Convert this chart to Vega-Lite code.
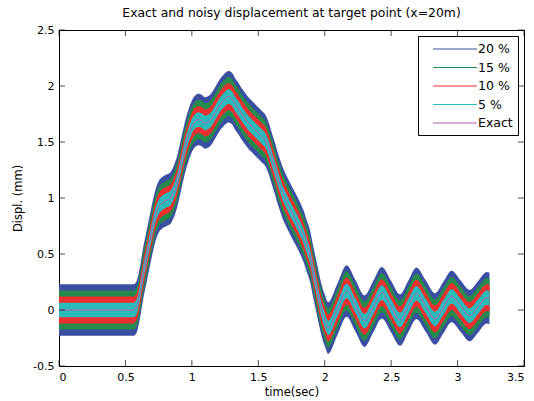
{
  "$schema": "https://vega.github.io/schema/vega-lite/v6.json",
  "width": 465,
  "height": 336,
  "autosize": {"type": "none"},
  "padding": {"left": 59, "top": 30, "right": 10, "bottom": 35},
  "title": {"text": "Exact and noisy displacement at target point (x=20m)", "fontSize": 12.4, "fontWeight": "normal", "font": "DejaVu Sans", "color": "black", "offset": 5, "anchor": "middle"},
  "config": {
    "view": {"stroke": "black", "strokeWidth": 1},
    "font": "DejaVu Sans",
    "axis": {"grid": false, "domain": false, "ticks": false, "labelPadding": 5, "labelColor": "black", "titleColor": "black", "labelFont": "DejaVu Sans", "titleFont": "DejaVu Sans", "labelFontSize": 11, "titleFontSize": 11.5, "titleFontWeight": "normal"}
  },
  "datasets": {
    "xticks": [{"v":0},{"v":0.5},{"v":1},{"v":1.5},{"v":2},{"v":2.5},{"v":3},{"v":3.5}],
    "yticks": [{"v":-0.5},{"v":0},{"v":0.5},{"v":1},{"v":1.5},{"v":2},{"v":2.5}]
  },
  "data": {"values": [
    {"t":0,"e":0,"lo20":-0.23,"hi20":0.23,"lo15":-0.175,"hi15":0.175,"lo10":-0.12,"hi10":0.12,"lo5":-0.065,"hi5":0.065},
    {"t":0.56,"e":0,"lo20":-0.23,"hi20":0.23,"lo15":-0.175,"hi15":0.175,"lo10":-0.12,"hi10":0.12,"lo5":-0.065,"hi5":0.065},
    {"t":0.585,"e":0.03,"lo20":-0.2,"hi20":0.26,"lo15":-0.145,"hi15":0.205,"lo10":-0.09,"hi10":0.15,"lo5":-0.035,"hi5":0.095},
    {"t":0.61,"e":0.16,"lo20":-0.07,"hi20":0.39,"lo15":-0.015,"hi15":0.335,"lo10":0.04,"hi10":0.28,"lo5":0.095,"hi5":0.225},
    {"t":0.634,"e":0.33,"lo20":0.1,"hi20":0.56,"lo15":0.155,"hi15":0.505,"lo10":0.21,"hi10":0.45,"lo5":0.265,"hi5":0.395},
    {"t":0.66,"e":0.48,"lo20":0.25,"hi20":0.71,"lo15":0.305,"hi15":0.655,"lo10":0.36,"hi10":0.6,"lo5":0.415,"hi5":0.545},
    {"t":0.685,"e":0.625,"lo20":0.395,"hi20":0.855,"lo15":0.45,"hi15":0.8,"lo10":0.505,"hi10":0.745,"lo5":0.56,"hi5":0.69},
    {"t":0.705,"e":0.74,"lo20":0.51,"hi20":0.97,"lo15":0.565,"hi15":0.915,"lo10":0.62,"hi10":0.86,"lo5":0.675,"hi5":0.805},
    {"t":0.725,"e":0.84,"lo20":0.61,"hi20":1.07,"lo15":0.665,"hi15":1.015,"lo10":0.72,"hi10":0.96,"lo5":0.775,"hi5":0.905},
    {"t":0.75,"e":0.92,"lo20":0.69,"hi20":1.15,"lo15":0.745,"hi15":1.095,"lo10":0.8,"hi10":1.04,"lo5":0.855,"hi5":0.985},
    {"t":0.78,"e":0.96,"lo20":0.73,"hi20":1.19,"lo15":0.785,"hi15":1.135,"lo10":0.84,"hi10":1.08,"lo5":0.895,"hi5":1.025},
    {"t":0.81,"e":0.98,"lo20":0.75,"hi20":1.21,"lo15":0.805,"hi15":1.155,"lo10":0.86,"hi10":1.1,"lo5":0.915,"hi5":1.045},
    {"t":0.84,"e":1.0,"lo20":0.77,"hi20":1.23,"lo15":0.825,"hi15":1.175,"lo10":0.88,"hi10":1.12,"lo5":0.935,"hi5":1.065},
    {"t":0.865,"e":1.06,"lo20":0.83,"hi20":1.29,"lo15":0.885,"hi15":1.235,"lo10":0.94,"hi10":1.18,"lo5":0.995,"hi5":1.125},
    {"t":0.89,"e":1.15,"lo20":0.92,"hi20":1.38,"lo15":0.975,"hi15":1.325,"lo10":1.03,"hi10":1.27,"lo5":1.085,"hi5":1.215},
    {"t":0.91,"e":1.25,"lo20":1.02,"hi20":1.48,"lo15":1.075,"hi15":1.425,"lo10":1.13,"hi10":1.37,"lo5":1.185,"hi5":1.315},
    {"t":0.93,"e":1.36,"lo20":1.13,"hi20":1.59,"lo15":1.185,"hi15":1.535,"lo10":1.24,"hi10":1.48,"lo5":1.295,"hi5":1.425},
    {"t":0.95,"e":1.46,"lo20":1.23,"hi20":1.69,"lo15":1.285,"hi15":1.635,"lo10":1.34,"hi10":1.58,"lo5":1.395,"hi5":1.525},
    {"t":0.975,"e":1.56,"lo20":1.33,"hi20":1.79,"lo15":1.385,"hi15":1.735,"lo10":1.44,"hi10":1.68,"lo5":1.495,"hi5":1.625},
    {"t":1.0,"e":1.64,"lo20":1.41,"hi20":1.87,"lo15":1.465,"hi15":1.815,"lo10":1.52,"hi10":1.76,"lo5":1.575,"hi5":1.705},
    {"t":1.025,"e":1.685,"lo20":1.455,"hi20":1.915,"lo15":1.51,"hi15":1.86,"lo10":1.565,"hi10":1.805,"lo5":1.62,"hi5":1.75},
    {"t":1.05,"e":1.7,"lo20":1.47,"hi20":1.93,"lo15":1.525,"hi15":1.875,"lo10":1.58,"hi10":1.82,"lo5":1.635,"hi5":1.765},
    {"t":1.075,"e":1.69,"lo20":1.46,"hi20":1.92,"lo15":1.515,"hi15":1.865,"lo10":1.57,"hi10":1.81,"lo5":1.625,"hi5":1.755},
    {"t":1.1,"e":1.67,"lo20":1.44,"hi20":1.9,"lo15":1.495,"hi15":1.845,"lo10":1.55,"hi10":1.79,"lo5":1.605,"hi5":1.735},
    {"t":1.125,"e":1.68,"lo20":1.45,"hi20":1.91,"lo15":1.505,"hi15":1.855,"lo10":1.56,"hi10":1.8,"lo5":1.615,"hi5":1.745},
    {"t":1.15,"e":1.71,"lo20":1.48,"hi20":1.94,"lo15":1.535,"hi15":1.885,"lo10":1.59,"hi10":1.83,"lo5":1.645,"hi5":1.775},
    {"t":1.18,"e":1.77,"lo20":1.54,"hi20":2.0,"lo15":1.595,"hi15":1.945,"lo10":1.65,"hi10":1.89,"lo5":1.705,"hi5":1.835},
    {"t":1.21,"e":1.83,"lo20":1.6,"hi20":2.06,"lo15":1.655,"hi15":2.005,"lo10":1.71,"hi10":1.95,"lo5":1.765,"hi5":1.895},
    {"t":1.245,"e":1.88,"lo20":1.65,"hi20":2.11,"lo15":1.705,"hi15":2.055,"lo10":1.76,"hi10":2.0,"lo5":1.815,"hi5":1.945},
    {"t":1.275,"e":1.905,"lo20":1.675,"hi20":2.135,"lo15":1.73,"hi15":2.08,"lo10":1.785,"hi10":2.025,"lo5":1.84,"hi5":1.97},
    {"t":1.3,"e":1.89,"lo20":1.66,"hi20":2.12,"lo15":1.715,"hi15":2.065,"lo10":1.77,"hi10":2.01,"lo5":1.825,"hi5":1.955},
    {"t":1.325,"e":1.84,"lo20":1.61,"hi20":2.07,"lo15":1.665,"hi15":2.015,"lo10":1.72,"hi10":1.96,"lo5":1.775,"hi5":1.905},
    {"t":1.35,"e":1.8,"lo20":1.57,"hi20":2.03,"lo15":1.625,"hi15":1.975,"lo10":1.68,"hi10":1.92,"lo5":1.735,"hi5":1.865},
    {"t":1.375,"e":1.75,"lo20":1.52,"hi20":1.98,"lo15":1.575,"hi15":1.925,"lo10":1.63,"hi10":1.87,"lo5":1.685,"hi5":1.815},
    {"t":1.4,"e":1.71,"lo20":1.48,"hi20":1.94,"lo15":1.535,"hi15":1.885,"lo10":1.59,"hi10":1.83,"lo5":1.645,"hi5":1.775},
    {"t":1.425,"e":1.67,"lo20":1.44,"hi20":1.9,"lo15":1.495,"hi15":1.845,"lo10":1.55,"hi10":1.79,"lo5":1.605,"hi5":1.735},
    {"t":1.45,"e":1.64,"lo20":1.41,"hi20":1.87,"lo15":1.465,"hi15":1.815,"lo10":1.52,"hi10":1.76,"lo5":1.575,"hi5":1.705},
    {"t":1.475,"e":1.61,"lo20":1.38,"hi20":1.84,"lo15":1.435,"hi15":1.785,"lo10":1.49,"hi10":1.73,"lo5":1.545,"hi5":1.675},
    {"t":1.5,"e":1.58,"lo20":1.35,"hi20":1.81,"lo15":1.405,"hi15":1.755,"lo10":1.46,"hi10":1.7,"lo5":1.515,"hi5":1.645},
    {"t":1.525,"e":1.55,"lo20":1.32,"hi20":1.78,"lo15":1.375,"hi15":1.725,"lo10":1.43,"hi10":1.67,"lo5":1.485,"hi5":1.615},
    {"t":1.55,"e":1.52,"lo20":1.29,"hi20":1.75,"lo15":1.345,"hi15":1.695,"lo10":1.4,"hi10":1.64,"lo5":1.455,"hi5":1.585},
    {"t":1.57,"e":1.47,"lo20":1.24,"hi20":1.7,"lo15":1.295,"hi15":1.645,"lo10":1.35,"hi10":1.59,"lo5":1.405,"hi5":1.535},
    {"t":1.59,"e":1.4,"lo20":1.17,"hi20":1.63,"lo15":1.225,"hi15":1.575,"lo10":1.28,"hi10":1.52,"lo5":1.335,"hi5":1.465},
    {"t":1.61,"e":1.32,"lo20":1.09,"hi20":1.55,"lo15":1.145,"hi15":1.495,"lo10":1.2,"hi10":1.44,"lo5":1.255,"hi5":1.385},
    {"t":1.625,"e":1.265,"lo20":1.035,"hi20":1.495,"lo15":1.09,"hi15":1.44,"lo10":1.145,"hi10":1.385,"lo5":1.2,"hi5":1.33},
    {"t":1.645,"e":1.18,"lo20":0.95,"hi20":1.41,"lo15":1.005,"hi15":1.355,"lo10":1.06,"hi10":1.3,"lo5":1.115,"hi5":1.245},
    {"t":1.665,"e":1.11,"lo20":0.88,"hi20":1.34,"lo15":0.935,"hi15":1.285,"lo10":0.99,"hi10":1.23,"lo5":1.045,"hi5":1.175},
    {"t":1.685,"e":1.04,"lo20":0.81,"hi20":1.27,"lo15":0.865,"hi15":1.215,"lo10":0.92,"hi10":1.16,"lo5":0.975,"hi5":1.105},
    {"t":1.7,"e":1.0,"lo20":0.77,"hi20":1.23,"lo15":0.825,"hi15":1.175,"lo10":0.88,"hi10":1.12,"lo5":0.935,"hi5":1.065},
    {"t":1.725,"e":0.94,"lo20":0.71,"hi20":1.17,"lo15":0.765,"hi15":1.115,"lo10":0.82,"hi10":1.06,"lo5":0.875,"hi5":1.005},
    {"t":1.75,"e":0.88,"lo20":0.65,"hi20":1.11,"lo15":0.705,"hi15":1.055,"lo10":0.76,"hi10":1.0,"lo5":0.815,"hi5":0.945},
    {"t":1.77,"e":0.835,"lo20":0.605,"hi20":1.065,"lo15":0.66,"hi15":1.01,"lo10":0.715,"hi10":0.955,"lo5":0.77,"hi5":0.9},
    {"t":1.79,"e":0.79,"lo20":0.56,"hi20":1.02,"lo15":0.615,"hi15":0.965,"lo10":0.67,"hi10":0.91,"lo5":0.725,"hi5":0.855},
    {"t":1.815,"e":0.73,"lo20":0.5,"hi20":0.96,"lo15":0.555,"hi15":0.905,"lo10":0.61,"hi10":0.85,"lo5":0.665,"hi5":0.795},
    {"t":1.84,"e":0.66,"lo20":0.43,"hi20":0.89,"lo15":0.485,"hi15":0.835,"lo10":0.54,"hi10":0.78,"lo5":0.595,"hi5":0.725},
    {"t":1.865,"e":0.57,"lo20":0.34,"hi20":0.8,"lo15":0.395,"hi15":0.745,"lo10":0.45,"hi10":0.69,"lo5":0.505,"hi5":0.635},
    {"t":1.89,"e":0.48,"lo20":0.25,"hi20":0.71,"lo15":0.305,"hi15":0.655,"lo10":0.36,"hi10":0.6,"lo5":0.415,"hi5":0.545},
    {"t":1.91,"e":0.36,"lo20":0.13,"hi20":0.59,"lo15":0.185,"hi15":0.535,"lo10":0.24,"hi10":0.48,"lo5":0.295,"hi5":0.425},
    {"t":1.935,"e":0.22,"lo20":-0.01,"hi20":0.45,"lo15":0.045,"hi15":0.395,"lo10":0.1,"hi10":0.34,"lo5":0.155,"hi5":0.285},
    {"t":1.96,"e":0.08,"lo20":-0.15,"hi20":0.31,"lo15":-0.095,"hi15":0.255,"lo10":-0.04,"hi10":0.2,"lo5":0.015,"hi5":0.145},
    {"t":1.985,"e":-0.04,"lo20":-0.27,"hi20":0.19,"lo15":-0.215,"hi15":0.135,"lo10":-0.16,"hi10":0.08,"lo5":-0.105,"hi5":0.025},
    {"t":2.0,"e":-0.09,"lo20":-0.32,"hi20":0.14,"lo15":-0.265,"hi15":0.085,"lo10":-0.21,"hi10":0.03,"lo5":-0.155,"hi5":-0.025},
    {"t":2.026,"e":-0.16,"lo20":-0.39,"hi20":0.07,"lo15":-0.335,"hi15":0.015,"lo10":-0.28,"hi10":-0.04,"lo5":-0.225,"hi5":-0.095},
    {"t":2.095,"e":0.005,"lo20":-0.225,"hi20":0.235,"lo15":-0.17,"hi15":0.18,"lo10":-0.115,"hi10":0.125,"lo5":-0.06,"hi5":0.07},
    {"t":2.165,"e":0.17,"lo20":-0.06,"hi20":0.4,"lo15":-0.005,"hi15":0.345,"lo10":0.05,"hi10":0.29,"lo5":0.105,"hi5":0.235},
    {"t":2.232,"e":0.035,"lo20":-0.195,"hi20":0.265,"lo15":-0.14,"hi15":0.21,"lo10":-0.085,"hi10":0.155,"lo5":-0.03,"hi5":0.1},
    {"t":2.3,"e":-0.1,"lo20":-0.33,"hi20":0.13,"lo15":-0.275,"hi15":0.075,"lo10":-0.22,"hi10":0.02,"lo5":-0.165,"hi5":-0.035},
    {"t":2.365,"e":0.028,"lo20":-0.202,"hi20":0.258,"lo15":-0.147,"hi15":0.203,"lo10":-0.092,"hi10":0.148,"lo5":-0.037,"hi5":0.093},
    {"t":2.43,"e":0.155,"lo20":-0.075,"hi20":0.385,"lo15":-0.02,"hi15":0.33,"lo10":0.035,"hi10":0.275,"lo5":0.09,"hi5":0.22},
    {"t":2.498,"e":0.033,"lo20":-0.197,"hi20":0.263,"lo15":-0.142,"hi15":0.208,"lo10":-0.087,"hi10":0.153,"lo5":-0.032,"hi5":0.098},
    {"t":2.566,"e":-0.09,"lo20":-0.32,"hi20":0.14,"lo15":-0.265,"hi15":0.085,"lo10":-0.21,"hi10":0.03,"lo5":-0.155,"hi5":-0.025},
    {"t":2.628,"e":0.03,"lo20":-0.2,"hi20":0.26,"lo15":-0.145,"hi15":0.205,"lo10":-0.09,"hi10":0.15,"lo5":-0.035,"hi5":0.095},
    {"t":2.69,"e":0.15,"lo20":-0.08,"hi20":0.38,"lo15":-0.025,"hi15":0.325,"lo10":0.03,"hi10":0.27,"lo5":0.085,"hi5":0.215},
    {"t":2.76,"e":0.035,"lo20":-0.195,"hi20":0.265,"lo15":-0.14,"hi15":0.21,"lo10":-0.085,"hi10":0.155,"lo5":-0.03,"hi5":0.1},
    {"t":2.83,"e":-0.08,"lo20":-0.31,"hi20":0.15,"lo15":-0.255,"hi15":0.095,"lo10":-0.2,"hi10":0.04,"lo5":-0.145,"hi5":-0.015},
    {"t":2.892,"e":0.02,"lo20":-0.21,"hi20":0.25,"lo15":-0.155,"hi15":0.195,"lo10":-0.1,"hi10":0.14,"lo5":-0.045,"hi5":0.085},
    {"t":2.955,"e":0.12,"lo20":-0.11,"hi20":0.35,"lo15":-0.055,"hi15":0.295,"lo10":0.0,"hi10":0.24,"lo5":0.055,"hi5":0.185},
    {"t":3.022,"e":0.035,"lo20":-0.195,"hi20":0.265,"lo15":-0.14,"hi15":0.21,"lo10":-0.085,"hi10":0.155,"lo5":-0.03,"hi5":0.1},
    {"t":3.09,"e":-0.05,"lo20":-0.28,"hi20":0.18,"lo15":-0.225,"hi15":0.125,"lo10":-0.17,"hi10":0.07,"lo5":-0.115,"hi5":0.015},
    {"t":3.155,"e":0.03,"lo20":-0.2,"hi20":0.26,"lo15":-0.145,"hi15":0.205,"lo10":-0.09,"hi10":0.15,"lo5":-0.035,"hi5":0.095},
    {"t":3.22,"e":0.11,"lo20":-0.12,"hi20":0.34,"lo15":-0.065,"hi15":0.285,"lo10":-0.01,"hi10":0.23,"lo5":0.045,"hi5":0.175},
    {"t":3.24,"e":0.105,"lo20":-0.125,"hi20":0.335,"lo15":-0.07,"hi15":0.28,"lo10":-0.015,"hi10":0.225,"lo5":0.04,"hi5":0.17}
  ]},
  "resolve": {"axis": {"x": "independent", "y": "independent"}},
  "layer": [
    {
      "mark": {"type": "area", "interpolate": "monotone"},
      "encoding": {
        "x": {"field": "t", "type": "quantitative", "scale": {"domain": [0, 3.5], "nice": false, "zero": false},
              "axis": {"orient": "bottom", "values": [0, 0.5, 1, 1.5, 2, 2.5, 3, 3.5], "labelExpr": "'' + datum.value", "title": "time(sec)", "titlePadding": 4}},
        "y": {"field": "lo20", "type": "quantitative", "scale": {"domain": [-0.5, 2.5], "nice": false, "zero": false},
              "axis": {"orient": "left", "values": [-0.5, 0, 0.5, 1, 1.5, 2, 2.5], "labelExpr": "'' + datum.value", "title": "Displ. (mm)", "titlePadding": 9}},
        "y2": {"field": "hi20"},
        "color": {"datum": "20 %", "type": "nominal",
                  "scale": {"domain": ["20 %", "15 %", "10 %", "5 %", "Exact"], "range": ["#3b4fa2", "#268a4c", "#ee2f2f", "#2cb9b9", "#b65fb6"]},
                  "legend": {"title": null, "orient": "top-right", "offset": 6, "symbolType": "M-3,0H3", "symbolSize": 216, "symbolStrokeWidth": 1.2, "symbolOffset": 24,
                             "labelFontSize": 12.5, "labelFont": "DejaVu Sans", "labelColor": "black", "labelOffset": 15, "strokeColor": "black", "fillColor": "white", "padding": 5, "rowPadding": 3.5,
                             "encode": {"symbols": {"update": {"stroke": {"scale": "color", "field": "value"}, "fill": {"value": "transparent"}}}}}}
      }
    },
    {
      "mark": {"type": "area", "interpolate": "monotone"},
      "encoding": {
        "x": {"field": "t", "type": "quantitative", "axis": null},
        "y": {"field": "lo15", "type": "quantitative", "axis": null},
        "y2": {"field": "hi15"},
        "color": {"datum": "15 %", "type": "nominal"}
      }
    },
    {
      "mark": {"type": "area", "interpolate": "monotone"},
      "encoding": {
        "x": {"field": "t", "type": "quantitative", "axis": null},
        "y": {"field": "lo10", "type": "quantitative", "axis": null},
        "y2": {"field": "hi10"},
        "color": {"datum": "10 %", "type": "nominal"}
      }
    },
    {
      "mark": {"type": "area", "interpolate": "monotone"},
      "encoding": {
        "x": {"field": "t", "type": "quantitative", "axis": null},
        "y": {"field": "lo5", "type": "quantitative", "axis": null},
        "y2": {"field": "hi5"},
        "color": {"datum": "5 %", "type": "nominal"}
      }
    },
    {
      "mark": {"type": "line", "interpolate": "monotone", "strokeWidth": 1},
      "encoding": {
        "x": {"field": "t", "type": "quantitative", "axis": null},
        "y": {"field": "e", "type": "quantitative", "axis": null},
        "color": {"datum": "Exact", "type": "nominal"}
      }
    },
    {
      "data": {"name": "xticks"},
      "mark": {"type": "tick", "orient": "vertical", "size": 6, "thickness": 1, "color": "black", "yOffset": -3},
      "encoding": {
        "x": {"field": "v", "type": "quantitative", "axis": null},
        "y": {"datum": -0.5, "type": "quantitative", "axis": null}
      }
    },
    {
      "data": {"name": "xticks"},
      "mark": {"type": "tick", "orient": "vertical", "size": 6, "thickness": 1, "color": "black", "yOffset": 3},
      "encoding": {
        "x": {"field": "v", "type": "quantitative", "axis": null},
        "y": {"datum": 2.5, "type": "quantitative", "axis": null}
      }
    },
    {
      "data": {"name": "yticks"},
      "mark": {"type": "tick", "orient": "horizontal", "size": 6, "thickness": 1, "color": "black", "xOffset": 3},
      "encoding": {
        "x": {"datum": 0, "type": "quantitative", "axis": null},
        "y": {"field": "v", "type": "quantitative", "axis": null}
      }
    },
    {
      "data": {"name": "yticks"},
      "mark": {"type": "tick", "orient": "horizontal", "size": 6, "thickness": 1, "color": "black", "xOffset": -3},
      "encoding": {
        "x": {"datum": 3.5, "type": "quantitative", "axis": null},
        "y": {"field": "v", "type": "quantitative", "axis": null}
      }
    }
  ]
}
